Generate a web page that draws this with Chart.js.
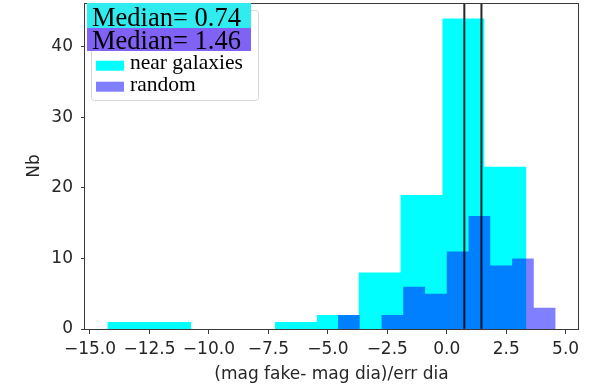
<!DOCTYPE html>
<html><head><meta charset="utf-8">
<script src="https://cdn.jsdelivr.net/npm/chart.js@4/dist/chart.umd.min.js"></script>
<style>html,body{margin:0;padding:0;background:#fff;} #wrap{width:596px;height:388px;position:relative;}</style>
</head><body><div id="wrap"><canvas id="c"></canvas></div>
<script>
// ---- data ----
const nearEdges = [-14.27, -12.51, -10.75, -8.98, -7.22, -5.46, -3.70, -1.94, -0.18, 1.58, 3.35];
const nearCounts = [1, 1, 0, 0, 1, 2, 8, 19, 44, 23];
const randomEdges = [-4.57, -3.66, -2.74, -1.83, -0.91, 0.00, 0.92, 1.83, 2.75, 3.66, 4.58];
const randomCounts = [2, 0, 2, 6, 5, 11, 16, 9, 10, 3];
const medians = [0.74, 1.46];
const seriesLabels = ['near galaxies', 'random'];
const xTicks = [-15, -12.5, -10, -7.5, -5, -2.5, 0, 2.5, 5];
const yTicks = [0, 10, 20, 30, 40];
const xRange = [-15.21, 5.52];
const yRange = [0, 46.2];

const NEAR_COLOR = '#00ffff';
const RANDOM_COLOR = 'rgba(0,0,255,0.5)';
const BOX_COLORS = ['rgb(48,236,238)', 'rgb(128,98,245)'];

function stepData(edges, counts) {
  const pts = counts.map((c, i) => ({x: edges[i], y: c}));
  pts.push({x: edges[edges.length - 1], y: 0});
  return pts;
}
function fmt(v) {
  return (v < 0 ? '\u2212' : '') + Math.abs(v).toFixed(1);
}

const frameAndLegend = {
  id: 'frameAndLegend',
  afterDraw(chart) {
    const ctx = chart.ctx;
    const a = chart.chartArea;
    ctx.save();
    // axes frame
    ctx.strokeStyle = '#3a3a3a';
    ctx.lineWidth = 1;
    ctx.strokeRect(Math.round(a.left) - 0.5, Math.round(a.top) + 0.5, Math.round(a.right - a.left) + 1, Math.round(a.bottom - a.top));
    // legend frame
    const lx = 91.5, ly = 10.5, lw = 167, lh = 90, r = 3;
    ctx.beginPath();
    ctx.moveTo(lx + r, ly);
    ctx.lineTo(lx + lw - r, ly);
    ctx.quadraticCurveTo(lx + lw, ly, lx + lw, ly + r);
    ctx.lineTo(lx + lw, ly + lh - r);
    ctx.quadraticCurveTo(lx + lw, ly + lh, lx + lw - r, ly + lh);
    ctx.lineTo(lx + r, ly + lh);
    ctx.quadraticCurveTo(lx, ly + lh, lx, ly + lh - r);
    ctx.lineTo(lx, ly + r);
    ctx.quadraticCurveTo(lx, ly, lx + r, ly);
    ctx.closePath();
    ctx.fillStyle = 'rgba(255,255,255,0.8)';
    ctx.fill();
    ctx.strokeStyle = '#d6d6d6';
    ctx.stroke();
    // legend entries
    const ds = chart.data.datasets;
    ctx.fillStyle = ds[0].backgroundColor;
    ctx.fillRect(96, 60.7, 28, 10);
    ctx.fillStyle = ds[1].backgroundColor;
    ctx.fillRect(96, 81.7, 28, 10);
    ctx.fillStyle = '#000';
    ctx.font = '21.5px "Liberation Serif"';
    ctx.textBaseline = 'alphabetic';
    ctx.textAlign = 'left';
    ctx.fillText(ds[0].label, 130, 68.5);
    ctx.fillText(ds[1].label, 130, 91);
    // median text boxes
    ctx.fillStyle = BOX_COLORS[0];
    ctx.fillRect(87, 3, 164, 25);
    ctx.fillStyle = BOX_COLORS[1];
    ctx.fillRect(87, 28, 164, 23);
    ctx.fillStyle = '#000';
    ctx.font = '26.5px "Liberation Serif"';
    ctx.fillText('Median= ' + medians[0].toFixed(2), 92, 26);
    ctx.fillText('Median= ' + medians[1].toFixed(2), 92, 49);
    ctx.restore();
  }
};

const datasets = [
  {type: 'line', label: seriesLabels[0], data: stepData(nearEdges, nearCounts), stepped: true,
   fill: 'origin', backgroundColor: NEAR_COLOR, borderColor: 'rgba(0,0,0,0)', borderWidth: 0,
   pointRadius: 0, tension: 0, order: 3},
  {type: 'line', label: seriesLabels[1], data: stepData(randomEdges, randomCounts), stepped: true,
   fill: 'origin', backgroundColor: RANDOM_COLOR, borderColor: 'rgba(0,0,0,0)', borderWidth: 0,
   pointRadius: 0, tension: 0, order: 2}
].concat(medians.map(m => ({
  type: 'line', label: 'median', data: [{x: m, y: yRange[0]}, {x: m, y: yRange[1]}],
  borderColor: 'rgba(0,0,0,0.85)', borderWidth: 2, pointRadius: 0, fill: false, order: 1
})));

new Chart(document.getElementById('c'), {
  type: 'line',
  data: {datasets},
  options: {
    responsive: true,
    maintainAspectRatio: false,
    animation: false,
    layout: {padding: {top: 3, right: 18, left: 0, bottom: 0}},
    plugins: {legend: {display: false}, tooltip: {enabled: false}},
    scales: {
      x: {
        type: 'linear', min: xRange[0], max: xRange[1],
        afterBuildTicks: s => { s.ticks = xTicks.map(v => ({value: v})); },
        afterFit: s => { s.height = 59; s.paddingLeft = 0; s.paddingRight = 0; },
        ticks: {callback: v => fmt(v), font: {family: 'DejaVu Sans', size: 17}, color: '#262626',
                padding: 5, maxRotation: 0, autoSkip: false},
        grid: {display: true, drawOnChartArea: false, drawTicks: true, tickLength: 5, color: '#3a3a3a', tickColor: '#3a3a3a'},
        border: {display: false},
        title: {display: true, text: '(mag fake- mag dia)/err dia', font: {family: 'DejaVu Sans', size: 17},
                color: '#262626', padding: {top: 0, bottom: 3}}
      },
      y: {
        type: 'linear', min: yRange[0], max: yRange[1],
        afterBuildTicks: s => { s.ticks = yTicks.map(v => ({value: v})); },
        afterFit: s => { s.width = 85; s.paddingTop = 0; s.paddingBottom = 0; },
        ticks: {callback: v => String(v), font: {family: 'DejaVu Sans', size: 17}, color: '#262626', padding: 8},
        grid: {display: true, drawOnChartArea: false, drawTicks: true, tickLength: 4, color: '#3a3a3a', tickColor: '#3a3a3a'},
        border: {display: false},
        title: {display: true, text: 'Nb', font: {family: 'DejaVu Sans', size: 17}, color: '#262626',
                padding: {top: 24, bottom: 0}}
      }
    }
  },
  plugins: [frameAndLegend]
});
</script>
</body></html>
